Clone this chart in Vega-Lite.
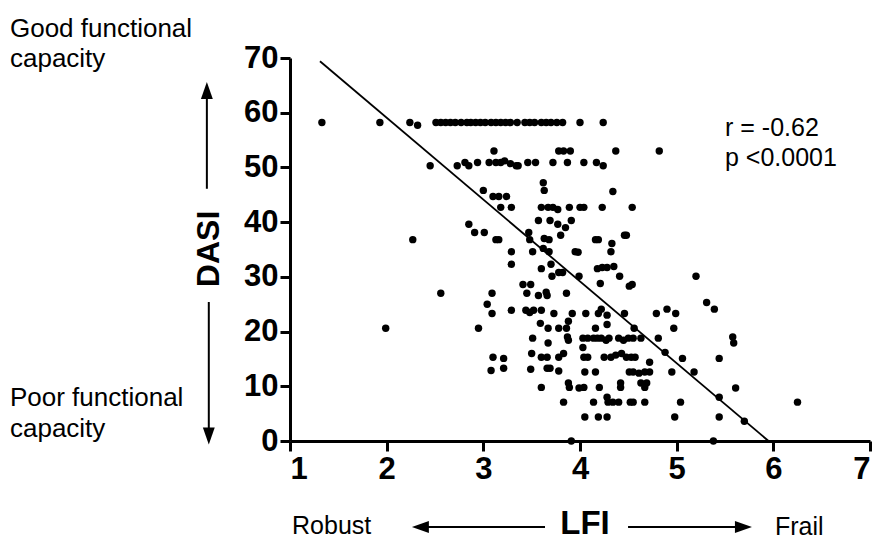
{
  "$schema": "https://vega.github.io/schema/vega-lite/v6.json",
  "width": 580,
  "height": 383,
  "autosize": {"type": "none"},
  "padding": {"left": 290, "top": 58, "right": 7, "bottom": 99},
  "background": "white",
  "config": {
    "view": {"stroke": null},
    "font": "Liberation Sans",
    "axis": {
      "domainColor": "black", "domainWidth": 3, "tickColor": "black", "tickWidth": 3, "tickSize": 10,
      "labelColor": "black", "labelFont": "Liberation Sans", "labelFontWeight": "bold", "labelFontSize": 31,
      "grid": false, "title": null
    }
  },
  "datasets": {
    "pts": [
      {"LFI":1.33,"DASI":58.2},{"LFI":1.93,"DASI":58.2},{"LFI":2.24,"DASI":58.2},{"LFI":2.32,"DASI":57.7},{"LFI":2.51,"DASI":58.2},{"LFI":2.56,"DASI":58.2},{"LFI":2.61,"DASI":58.2},{"LFI":2.66,"DASI":58.2},{"LFI":2.71,"DASI":58.2},{"LFI":2.77,"DASI":58.2},{"LFI":2.83,"DASI":58.2},{"LFI":2.87,"DASI":58.2},{"LFI":2.92,"DASI":58.2},{"LFI":2.97,"DASI":58.2},{"LFI":3.02,"DASI":58.2},{"LFI":3.08,"DASI":58.2},{"LFI":3.13,"DASI":58.2},{"LFI":3.18,"DASI":58.2},{"LFI":3.23,"DASI":58.2},{"LFI":3.28,"DASI":58.2},{"LFI":3.35,"DASI":58.2},{"LFI":3.43,"DASI":58.2},{"LFI":3.48,"DASI":58.2},{"LFI":3.53,"DASI":58.2},{"LFI":3.60,"DASI":58.2},{"LFI":3.65,"DASI":58.2},{"LFI":3.70,"DASI":58.2},{"LFI":3.76,"DASI":58.2},{"LFI":3.82,"DASI":58.2},{"LFI":4.00,"DASI":58.2},{"LFI":4.24,"DASI":58.2},
      {"LFI":3.11,"DASI":53.0},{"LFI":3.78,"DASI":53.0},{"LFI":3.83,"DASI":53.0},{"LFI":3.90,"DASI":53.0},{"LFI":4.37,"DASI":53.0},{"LFI":4.82,"DASI":53.0},
      {"LFI":2.45,"DASI":50.3},{"LFI":2.73,"DASI":50.3},{"LFI":2.81,"DASI":50.9},{"LFI":2.85,"DASI":50.3},{"LFI":2.94,"DASI":50.9},{"LFI":3.06,"DASI":50.9},{"LFI":3.13,"DASI":50.9},{"LFI":3.18,"DASI":50.9},{"LFI":3.22,"DASI":51.2},{"LFI":3.28,"DASI":50.7},{"LFI":3.34,"DASI":50.3},{"LFI":3.36,"DASI":50.3},{"LFI":3.46,"DASI":50.9},{"LFI":3.54,"DASI":50.9},{"LFI":3.72,"DASI":50.9},{"LFI":3.87,"DASI":50.9},{"LFI":4.04,"DASI":50.9},{"LFI":4.17,"DASI":50.9},{"LFI":4.24,"DASI":50.3},
      {"LFI":3.62,"DASI":47.2},{"LFI":3.63,"DASI":45.8},{"LFI":3.00,"DASI":45.8},{"LFI":3.10,"DASI":44.7},{"LFI":3.16,"DASI":44.7},{"LFI":3.24,"DASI":44.7},{"LFI":4.34,"DASI":45.6},
      {"LFI":3.18,"DASI":42.7},{"LFI":3.29,"DASI":42.7},{"LFI":3.60,"DASI":42.7},{"LFI":3.67,"DASI":42.7},{"LFI":3.72,"DASI":42.7},{"LFI":3.77,"DASI":42.3},{"LFI":3.89,"DASI":42.7},{"LFI":4.00,"DASI":42.7},{"LFI":4.04,"DASI":42.7},{"LFI":4.23,"DASI":42.7},{"LFI":4.54,"DASI":42.7},
      {"LFI":2.85,"DASI":39.6},{"LFI":3.57,"DASI":40.3},{"LFI":3.69,"DASI":40.3},{"LFI":3.77,"DASI":39.6},{"LFI":3.85,"DASI":39.0},{"LFI":3.91,"DASI":40.3},
      {"LFI":2.91,"DASI":38.1},{"LFI":3.01,"DASI":38.1},{"LFI":3.13,"DASI":36.8},{"LFI":3.16,"DASI":36.8},{"LFI":3.47,"DASI":38.1},{"LFI":3.48,"DASI":36.8},{"LFI":3.63,"DASI":37.0},{"LFI":3.68,"DASI":36.8},{"LFI":3.80,"DASI":37.6},{"LFI":4.16,"DASI":36.8},{"LFI":4.19,"DASI":36.8},{"LFI":4.33,"DASI":36.1},{"LFI":4.46,"DASI":37.6},{"LFI":4.48,"DASI":37.6},{"LFI":2.27,"DASI":36.8},
      {"LFI":3.29,"DASI":34.6},{"LFI":3.51,"DASI":34.6},{"LFI":3.62,"DASI":35.2},{"LFI":3.68,"DASI":34.6},{"LFI":3.95,"DASI":34.6},{"LFI":3.98,"DASI":34.5},{"LFI":4.32,"DASI":34.6},
      {"LFI":3.29,"DASI":32.3},{"LFI":3.60,"DASI":31.5},{"LFI":3.70,"DASI":32.3},{"LFI":3.71,"DASI":30.1},{"LFI":3.78,"DASI":30.8},{"LFI":3.82,"DASI":30.8},{"LFI":3.99,"DASI":30.1},{"LFI":4.18,"DASI":31.5},{"LFI":4.23,"DASI":31.7},{"LFI":4.28,"DASI":31.7},{"LFI":4.35,"DASI":31.9},{"LFI":4.41,"DASI":30.1},{"LFI":5.20,"DASI":30.1},
      {"LFI":3.41,"DASI":28.6},{"LFI":3.49,"DASI":28.6},{"LFI":4.21,"DASI":28.8},{"LFI":4.51,"DASI":28.3},{"LFI":4.54,"DASI":28.6},{"LFI":2.56,"DASI":27.0},{"LFI":3.09,"DASI":27.0},{"LFI":3.45,"DASI":27.0},{"LFI":3.57,"DASI":26.6},{"LFI":3.65,"DASI":27.2},{"LFI":3.66,"DASI":26.6},{"LFI":3.86,"DASI":27.0},
      {"LFI":5.31,"DASI":25.3},{"LFI":5.39,"DASI":24.1},{"LFI":3.04,"DASI":25.0},{"LFI":3.09,"DASI":23.3},{"LFI":3.29,"DASI":23.9},{"LFI":3.44,"DASI":23.9},{"LFI":3.48,"DASI":23.5},{"LFI":3.52,"DASI":23.9},{"LFI":3.60,"DASI":23.9},{"LFI":3.73,"DASI":23.3},{"LFI":3.92,"DASI":23.3},{"LFI":4.06,"DASI":23.3},{"LFI":4.19,"DASI":23.3},{"LFI":4.22,"DASI":24.1},{"LFI":4.28,"DASI":23.0},{"LFI":4.46,"DASI":23.3},{"LFI":4.79,"DASI":23.3},{"LFI":4.90,"DASI":24.1},{"LFI":4.99,"DASI":23.3},
      {"LFI":3.88,"DASI":21.9},{"LFI":3.59,"DASI":21.5},{"LFI":4.28,"DASI":21.3},{"LFI":1.99,"DASI":20.6},{"LFI":2.95,"DASI":20.6},{"LFI":3.67,"DASI":20.6},{"LFI":3.78,"DASI":20.6},{"LFI":3.86,"DASI":20.6},{"LFI":4.16,"DASI":20.6},{"LFI":4.56,"DASI":20.6},{"LFI":4.97,"DASI":20.6},
      {"LFI":3.51,"DASI":18.8},{"LFI":3.67,"DASI":17.9},{"LFI":3.87,"DASI":19.0},{"LFI":3.88,"DASI":18.4},{"LFI":4.03,"DASI":18.8},{"LFI":4.08,"DASI":18.8},{"LFI":4.14,"DASI":18.8},{"LFI":4.18,"DASI":18.8},{"LFI":4.22,"DASI":18.8},{"LFI":4.27,"DASI":18.4},{"LFI":4.30,"DASI":18.8},{"LFI":4.40,"DASI":18.8},{"LFI":4.45,"DASI":18.4},{"LFI":4.50,"DASI":18.8},{"LFI":4.55,"DASI":18.8},{"LFI":4.63,"DASI":18.8},{"LFI":4.81,"DASI":18.8},{"LFI":5.58,"DASI":19.0},{"LFI":5.59,"DASI":17.9},{"LFI":4.03,"DASI":17.1},
      {"LFI":3.50,"DASI":16.0},{"LFI":3.60,"DASI":15.3},{"LFI":3.66,"DASI":15.3},{"LFI":3.78,"DASI":15.3},{"LFI":3.83,"DASI":16.0},{"LFI":4.04,"DASI":15.3},{"LFI":4.08,"DASI":15.3},{"LFI":4.25,"DASI":15.3},{"LFI":4.32,"DASI":15.3},{"LFI":4.37,"DASI":15.7},{"LFI":4.43,"DASI":16.0},{"LFI":4.48,"DASI":15.3},{"LFI":4.53,"DASI":15.3},{"LFI":4.57,"DASI":15.3},{"LFI":3.10,"DASI":15.3},{"LFI":3.21,"DASI":15.1},{"LFI":4.88,"DASI":16.2},{"LFI":5.06,"DASI":15.1},{"LFI":5.44,"DASI":15.1},{"LFI":4.72,"DASI":14.4},
      {"LFI":3.08,"DASI":12.9},{"LFI":3.21,"DASI":13.3},{"LFI":3.49,"DASI":13.1},{"LFI":3.66,"DASI":13.3},{"LFI":3.69,"DASI":13.3},{"LFI":3.78,"DASI":12.8},{"LFI":4.05,"DASI":12.6},{"LFI":4.16,"DASI":12.6},{"LFI":4.51,"DASI":12.6},{"LFI":4.55,"DASI":12.6},{"LFI":4.61,"DASI":12.4},{"LFI":4.67,"DASI":12.6},{"LFI":4.72,"DASI":12.6},{"LFI":4.95,"DASI":12.6},{"LFI":5.18,"DASI":12.6},
      {"LFI":3.60,"DASI":9.8},{"LFI":3.88,"DASI":10.6},{"LFI":3.89,"DASI":9.8},{"LFI":3.99,"DASI":9.7},{"LFI":4.04,"DASI":9.8},{"LFI":4.20,"DASI":9.8},{"LFI":4.42,"DASI":10.6},{"LFI":4.42,"DASI":9.8},{"LFI":4.63,"DASI":10.6},{"LFI":4.67,"DASI":9.8},{"LFI":4.69,"DASI":10.6},{"LFI":5.61,"DASI":9.7},{"LFI":4.28,"DASI":8.0},{"LFI":5.44,"DASI":8.0},
      {"LFI":3.83,"DASI":7.1},{"LFI":4.14,"DASI":7.1},{"LFI":4.29,"DASI":7.1},{"LFI":4.34,"DASI":7.1},{"LFI":4.40,"DASI":7.1},{"LFI":4.52,"DASI":7.1},{"LFI":4.55,"DASI":7.1},{"LFI":4.67,"DASI":7.1},{"LFI":5.04,"DASI":7.1},{"LFI":6.25,"DASI":7.1},
      {"LFI":4.05,"DASI":4.4},{"LFI":4.19,"DASI":4.4},{"LFI":4.28,"DASI":4.4},{"LFI":4.98,"DASI":4.4},{"LFI":5.44,"DASI":4.4},{"LFI":5.70,"DASI":3.6},
      {"LFI":3.91,"DASI":0},{"LFI":5.38,"DASI":0}
    ],
    "fit": [
      {"LFI": 1.31, "DASI": 69.4},
      {"LFI": 5.95, "DASI": 0}
    ]
  },
  "layer": [
    {
      "data": {"name": "pts"},
      "mark": {"type": "circle", "size": 55, "color": "black", "opacity": 1},
      "encoding": {
        "x": {"field": "LFI", "type": "quantitative", "scale": {"domain": [1, 7], "nice": false, "zero": false},
              "axis": {"values": [1, 2, 3, 4, 5, 6, 7], "format": "d", "labelPadding": 3, "domainWidth": 3, "tickWidth": 3}},
        "y": {"field": "DASI", "type": "quantitative", "scale": {"domain": [0, 70], "nice": false, "zero": false},
              "axis": {"values": [0, 10, 20, 30, 40, 50, 60, 70], "format": "d", "labelPadding": 2, "domainWidth": 3, "tickWidth": 3}}
      }
    },
    {
      "data": {"name": "fit"},
      "mark": {"type": "line", "color": "black", "strokeWidth": 1.8},
      "encoding": {
        "x": {"field": "LFI", "type": "quantitative"},
        "y": {"field": "DASI", "type": "quantitative"}
      }
    },
    {
      "data": {"values": [{}]},
      "mark": {"type": "text", "text": "r = -0.62", "align": "left", "baseline": "alphabetic", "fontSize": 25, "color": "black"},
      "encoding": {"x": {"datum": 5.5, "type": "quantitative"}, "y": {"datum": 55.75, "type": "quantitative"}}
    },
    {
      "data": {"values": [{}]},
      "mark": {"type": "text", "text": "p <0.0001", "align": "left", "baseline": "alphabetic", "fontSize": 25, "color": "black"},
      "encoding": {"x": {"datum": 5.5, "type": "quantitative"}, "y": {"datum": 50.27, "type": "quantitative"}}
    },
    {
      "data": {"values": [{}]},
      "mark": {"type": "text", "text": "Good functional", "align": "left", "baseline": "alphabetic", "fontSize": 26, "color": "black"},
      "encoding": {"x": {"datum": -1.897, "type": "quantitative"}, "y": {"datum": 73.84, "type": "quantitative"}}
    },
    {
      "data": {"values": [{}]},
      "mark": {"type": "text", "text": "capacity", "align": "left", "baseline": "alphabetic", "fontSize": 26, "color": "black"},
      "encoding": {"x": {"datum": -1.897, "type": "quantitative"}, "y": {"datum": 68.36, "type": "quantitative"}}
    },
    {
      "data": {"values": [{}]},
      "mark": {"type": "text", "text": "Poor functional", "align": "left", "baseline": "alphabetic", "fontSize": 26, "color": "black"},
      "encoding": {"x": {"datum": -1.897, "type": "quantitative"}, "y": {"datum": 6.4, "type": "quantitative"}}
    },
    {
      "data": {"values": [{}]},
      "mark": {"type": "text", "text": "capacity", "align": "left", "baseline": "alphabetic", "fontSize": 26, "color": "black"},
      "encoding": {"x": {"datum": -1.897, "type": "quantitative"}, "y": {"datum": 0.73, "type": "quantitative"}}
    },
    {
      "data": {"values": [{}]},
      "mark": {"type": "text", "text": "DASI", "align": "center", "baseline": "middle", "angle": 270, "fontSize": 32, "fontWeight": "bold", "color": "black"},
      "encoding": {"x": {"datum": 0.157, "type": "quantitative"}, "y": {"datum": 35.1, "type": "quantitative"}}
    },
    {
      "data": {"values": [{}]},
      "mark": {"type": "text", "text": "LFI", "align": "center", "baseline": "middle", "fontSize": 33, "fontWeight": "bold", "color": "black"},
      "encoding": {"x": {"datum": 4.052, "type": "quantitative"}, "y": {"datum": -15.2, "type": "quantitative"}}
    },
    {
      "data": {"values": [{}]},
      "mark": {"type": "text", "text": "Robust", "align": "left", "baseline": "middle", "fontSize": 25, "color": "black"},
      "encoding": {"x": {"datum": 1.021, "type": "quantitative"}, "y": {"datum": -15.6, "type": "quantitative"}}
    },
    {
      "data": {"values": [{}]},
      "mark": {"type": "text", "text": "Frail", "align": "left", "baseline": "middle", "fontSize": 25, "color": "black"},
      "encoding": {"x": {"datum": 6.017, "type": "quantitative"}, "y": {"datum": -15.7, "type": "quantitative"}}
    },
    {
      "data": {"values": [{}]},
      "mark": {"type": "rule", "color": "black", "strokeWidth": 2},
      "encoding": {"x": {"datum": 0.14, "type": "quantitative"}, "y": {"datum": 64.2, "type": "quantitative"}, "y2": {"datum": 46.1}}
    },
    {
      "data": {"values": [{}]},
      "mark": {"type": "point", "shape": "M0,-1L0.7,1L-0.7,1Z", "size": 289, "filled": true, "color": "black", "opacity": 1, "strokeWidth": 0},
      "encoding": {"x": {"datum": 0.14, "type": "quantitative"}, "y": {"datum": 64.07, "type": "quantitative"}}
    },
    {
      "data": {"values": [{}]},
      "mark": {"type": "rule", "color": "black", "strokeWidth": 2},
      "encoding": {"x": {"datum": 0.16, "type": "quantitative"}, "y": {"datum": 25.4, "type": "quantitative"}, "y2": {"datum": 1.0}}
    },
    {
      "data": {"values": [{}]},
      "mark": {"type": "point", "shape": "M0,1L0.7,-1L-0.7,-1Z", "size": 289, "filled": true, "color": "black", "opacity": 1, "strokeWidth": 0},
      "encoding": {"x": {"datum": 0.16, "type": "quantitative"}, "y": {"datum": 0.9, "type": "quantitative"}}
    },
    {
      "data": {"values": [{}]},
      "mark": {"type": "rule", "color": "black", "strokeWidth": 2},
      "encoding": {"x": {"datum": 2.345, "type": "quantitative"}, "x2": {"datum": 3.638}, "y": {"datum": -15.72, "type": "quantitative"}}
    },
    {
      "data": {"values": [{}]},
      "mark": {"type": "point", "shape": "M-1,0L1,-0.7L1,0.7Z", "size": 289, "filled": true, "color": "black", "opacity": 1, "strokeWidth": 0},
      "encoding": {"x": {"datum": 2.349, "type": "quantitative"}, "y": {"datum": -15.72, "type": "quantitative"}}
    },
    {
      "data": {"values": [{}]},
      "mark": {"type": "rule", "color": "black", "strokeWidth": 2},
      "encoding": {"x": {"datum": 4.497, "type": "quantitative"}, "x2": {"datum": 5.691}, "y": {"datum": -15.72, "type": "quantitative"}}
    },
    {
      "data": {"values": [{}]},
      "mark": {"type": "point", "shape": "M1,0L-1,-0.7L-1,0.7Z", "size": 289, "filled": true, "color": "black", "opacity": 1, "strokeWidth": 0},
      "encoding": {"x": {"datum": 5.691, "type": "quantitative"}, "y": {"datum": -15.72, "type": "quantitative"}}
    }
  ]
}
